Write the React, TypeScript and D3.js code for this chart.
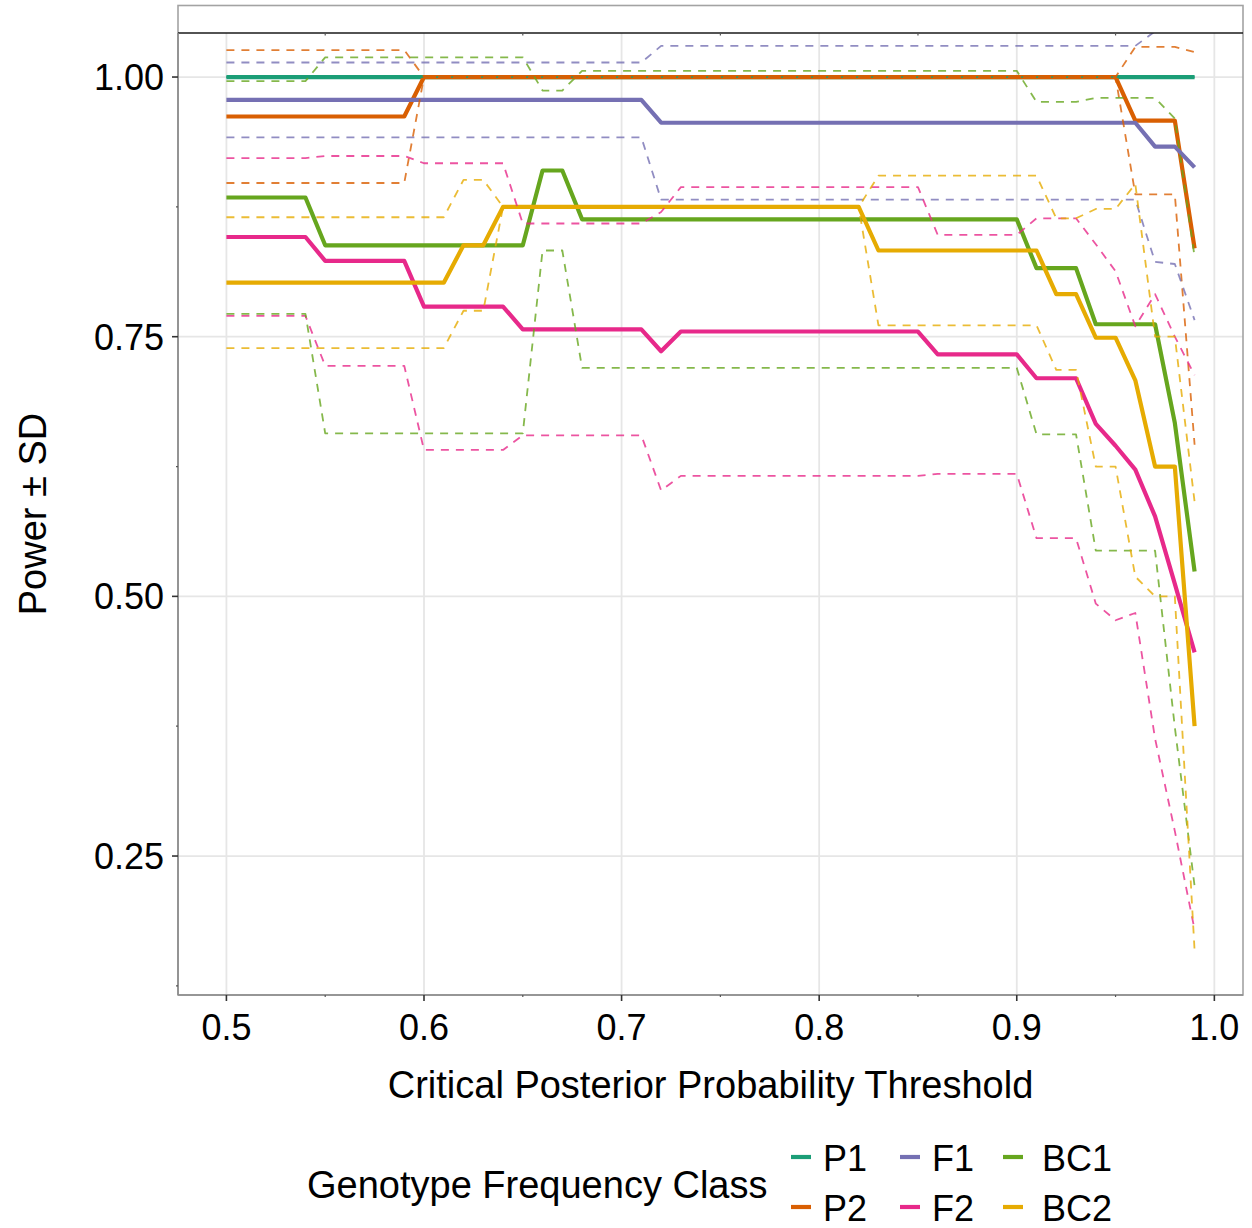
import React from 'react';
import * as d3 from 'd3';

const width = 1252;
const height = 1228;

// panel box in pixels
const left = 178;
const right = 1243;
const top = 33;
const bottom = 995;

const thresholds = [
	0.5, 0.51, 0.52, 0.53, 0.54, 0.55, 0.56, 0.57, 0.58, 0.59,
	0.6, 0.61, 0.62, 0.63, 0.64, 0.65, 0.66, 0.67, 0.68, 0.69,
	0.7, 0.71, 0.72, 0.73, 0.74, 0.75, 0.76, 0.77, 0.78, 0.79,
	0.8, 0.81, 0.82, 0.83, 0.84, 0.85, 0.86, 0.87, 0.88, 0.89,
	0.9, 0.91, 0.92, 0.93, 0.94, 0.95, 0.96, 0.97, 0.98, 0.99,
];

const p1Mean = [
	1, 1, 1, 1, 1, 1, 1, 1, 1, 1,
	1, 1, 1, 1, 1, 1, 1, 1, 1, 1,
	1, 1, 1, 1, 1, 1, 1, 1, 1, 1,
	1, 1, 1, 1, 1, 1, 1, 1, 1, 1,
	1, 1, 1, 1, 1, 1, 1, 1, 1, 1,
];
const p1Sd = [
	0, 0, 0, 0, 0, 0, 0, 0, 0, 0,
	0, 0, 0, 0, 0, 0, 0, 0, 0, 0,
	0, 0, 0, 0, 0, 0, 0, 0, 0, 0,
	0, 0, 0, 0, 0, 0, 0, 0, 0, 0,
	0, 0, 0, 0, 0, 0, 0, 0, 0, 0,
];

const p2Mean = [
	0.962, 0.962, 0.962, 0.962, 0.962, 0.962, 0.962, 0.962, 0.962, 0.962,
	1, 1, 1, 1, 1, 1, 1, 1, 1, 1,
	1, 1, 1, 1, 1, 1, 1, 1, 1, 1,
	1, 1, 1, 1, 1, 1, 1, 1, 1, 1,
	1, 1, 1, 1, 1, 1, 0.958, 0.958, 0.958, 0.835,
];
const p2Sd = [
	0.064, 0.064, 0.064, 0.064, 0.064, 0.064, 0.064, 0.064, 0.064, 0.064,
	0, 0, 0, 0, 0, 0, 0, 0, 0, 0,
	0, 0, 0, 0, 0, 0, 0, 0, 0, 0,
	0, 0, 0, 0, 0, 0, 0, 0, 0, 0,
	0, 0, 0, 0, 0, 0, 0.071, 0.071, 0.071, 0.189,
];

const f1Mean = [
	0.978, 0.978, 0.978, 0.978, 0.978, 0.978, 0.978, 0.978, 0.978, 0.978,
	0.978, 0.978, 0.978, 0.978, 0.978, 0.978, 0.978, 0.978, 0.978, 0.978,
	0.978, 0.978, 0.956, 0.956, 0.956, 0.956, 0.956, 0.956, 0.956, 0.956,
	0.956, 0.956, 0.956, 0.956, 0.956, 0.956, 0.956, 0.956, 0.956, 0.956,
	0.956, 0.956, 0.956, 0.956, 0.956, 0.956, 0.956, 0.933, 0.933, 0.913,
];
const f1Sd = [
	0.036, 0.036, 0.036, 0.036, 0.036, 0.036, 0.036, 0.036, 0.036, 0.036,
	0.036, 0.036, 0.036, 0.036, 0.036, 0.036, 0.036, 0.036, 0.036, 0.036,
	0.036, 0.036, 0.074, 0.074, 0.074, 0.074, 0.074, 0.074, 0.074, 0.074,
	0.074, 0.074, 0.074, 0.074, 0.074, 0.074, 0.074, 0.074, 0.074, 0.074,
	0.074, 0.074, 0.074, 0.074, 0.074, 0.074, 0.074, 0.111, 0.113, 0.147,
];

const f2Mean = [
	0.846, 0.846, 0.846, 0.846, 0.846, 0.823, 0.823, 0.823, 0.823, 0.823,
	0.779, 0.779, 0.779, 0.779, 0.779, 0.757, 0.757, 0.757, 0.757, 0.757,
	0.757, 0.757, 0.736, 0.755, 0.755, 0.755, 0.755, 0.755, 0.755, 0.755,
	0.755, 0.755, 0.755, 0.755, 0.755, 0.755, 0.733, 0.733, 0.733, 0.733,
	0.733, 0.71, 0.71, 0.71, 0.666, 0.645, 0.622, 0.577, 0.512, 0.446,
];
const f2Sd = [
	0.076, 0.076, 0.076, 0.076, 0.076, 0.101, 0.101, 0.101, 0.101, 0.101,
	0.138, 0.138, 0.138, 0.138, 0.138, 0.102, 0.102, 0.102, 0.102, 0.102,
	0.102, 0.102, 0.134, 0.139, 0.139, 0.139, 0.139, 0.139, 0.139, 0.139,
	0.139, 0.139, 0.139, 0.139, 0.139, 0.139, 0.115, 0.115, 0.115, 0.115,
	0.115, 0.154, 0.154, 0.154, 0.173, 0.168, 0.138, 0.214, 0.238, 0.267,
];

const bc1Mean = [
	0.884, 0.884, 0.884, 0.884, 0.884, 0.838, 0.838, 0.838, 0.838, 0.838,
	0.838, 0.838, 0.838, 0.838, 0.838, 0.838, 0.91, 0.91, 0.863, 0.863,
	0.863, 0.863, 0.863, 0.863, 0.863, 0.863, 0.863, 0.863, 0.863, 0.863,
	0.863, 0.863, 0.863, 0.863, 0.863, 0.863, 0.863, 0.863, 0.863, 0.863,
	0.863, 0.816, 0.816, 0.816, 0.762, 0.762, 0.762, 0.762, 0.667, 0.524,
];
const bc1Sd = [
	0.112, 0.112, 0.112, 0.112, 0.112, 0.181, 0.181, 0.181, 0.181, 0.181,
	0.181, 0.181, 0.181, 0.181, 0.181, 0.181, 0.077, 0.077, 0.143, 0.143,
	0.143, 0.143, 0.143, 0.143, 0.143, 0.143, 0.143, 0.143, 0.143, 0.143,
	0.143, 0.143, 0.143, 0.143, 0.143, 0.143, 0.143, 0.143, 0.143, 0.143,
	0.143, 0.16, 0.16, 0.16, 0.218, 0.218, 0.218, 0.218, 0.293, 0.303,
];

const bc2Mean = [
	0.802, 0.802, 0.802, 0.802, 0.802, 0.802, 0.802, 0.802, 0.802, 0.802,
	0.802, 0.802, 0.838, 0.838, 0.875, 0.875, 0.875, 0.875, 0.875, 0.875,
	0.875, 0.875, 0.875, 0.875, 0.875, 0.875, 0.875, 0.875, 0.875, 0.875,
	0.875, 0.875, 0.875, 0.833, 0.833, 0.833, 0.833, 0.833, 0.833, 0.833,
	0.833, 0.833, 0.791, 0.791, 0.749, 0.749, 0.708, 0.625, 0.625, 0.375,
];
const bc2Sd = [
	0.063, 0.063, 0.063, 0.063, 0.063, 0.063, 0.063, 0.063, 0.063, 0.063,
	0.063, 0.063, 0.063, 0.063, 0, 0, 0, 0, 0, 0,
	0, 0, 0, 0, 0, 0, 0, 0, 0, 0,
	0, 0, 0, 0.072, 0.072, 0.072, 0.072, 0.072, 0.072, 0.072,
	0.072, 0.072, 0.073, 0.073, 0.124, 0.124, 0.189, 0.125, 0.125, 0.216,
];

const groups = ['P1', 'P2', 'F1', 'F2', 'BC1', 'BC2'];
const colors = ['#1b9e77', '#d95f02', '#7570b3', '#e7298a', '#66a61e', '#e6ab02'];
const means = [p1Mean, p2Mean, f1Mean, f2Mean, bc1Mean, bc2Mean];
const sds = [p1Sd, p2Sd, f1Sd, f2Sd, bc1Sd, bc2Sd];

const yTicks = [0.25, 0.5, 0.75, 1.0];
const yTickLabels = ['0.25', '0.50', '0.75', '1.00'];
const yMinor = [0.125, 0.375, 0.625, 0.875];
const xTicks = [0.5, 0.6, 0.7, 0.8, 0.9, 1.0];
const xTickLabels = ['0.5', '0.6', '0.7', '0.8', '0.9', '1.0'];
const xMinor = [0.55, 0.65, 0.75, 0.85, 0.95];

const font = '"Liberation Sans", Arial, sans-serif';

const x = d3.scaleLinear().domain([0.4755, 1.0145]).range([left, right]);
const y = d3.scaleLinear().domain([0.1162, 1.0424]).range([bottom, top]);

const App = () => {
	const line = (vals: number[]) =>
		d3
			.line<number>()
			.x((d, i) => x(thresholds[i]))
			.y((d) => y(d))(vals) || '';

	// legend: 2 rows, filled column by column
	const legendCols = [791, 900, 1003];
	const legendRows = [1157, 1207];

	return (
		<svg
			width={width}
			height={height}
			style={{ position: 'absolute', left: 0, top: 0, background: '#fff' }}
			fontFamily={font}
		>
			<defs>
				<clipPath id="panel">
					<rect x={left} y={top} width={right - left} height={bottom - top} />
				</clipPath>
			</defs>
			<rect x={0} y={0} width={width} height={height} fill="#fff" />

			{/* grid */}
			{yTicks.map((t) => (
				<line key={'gy' + t} x1={left} x2={right} y1={y(t)} y2={y(t)} stroke="#e6e6e6" strokeWidth={1.8} />
			))}
			{xTicks.map((t) => (
				<line key={'gx' + t} x1={x(t)} x2={x(t)} y1={top} y2={bottom} stroke="#e6e6e6" strokeWidth={1.8} />
			))}

			<g clipPath="url(#panel)" fill="none" strokeLinejoin="round">
				{means.map((m, k) => (
					<path key={'m' + k} d={line(m)} stroke={colors[k]} strokeWidth={4.2} />
				))}
				{means.map((m, k) => (
					<g key={'sd' + k} stroke={colors[k]} strokeWidth={1.8} strokeDasharray="8,7" strokeOpacity={0.8}>
						<path d={line(m.map((v, i) => v + sds[k][i]))} />
						<path d={line(m.map((v, i) => v - sds[k][i]))} />
					</g>
				))}
			</g>

			{/* frame and strip */}
			<rect x={left} y={5.5} width={right - left} height={bottom - 5.5} fill="none" stroke="#a3a3a3" strokeWidth={1.6} />
			<line x1={left} x2={right} y1={top} y2={top} stroke="#1a1a1a" strokeWidth={1.6} />
			<line x1={left} x2={left} y1={top} y2={bottom} stroke="#8c8c8c" strokeWidth={1.6} />
			<line x1={left} x2={right} y1={bottom} y2={bottom} stroke="#8c8c8c" strokeWidth={1.6} />

			{/* y axis */}
			{yTicks.map((t, i) => (
				<g key={'yt' + t}>
					<line x1={left - 6} x2={left} y1={y(t)} y2={y(t)} stroke="#333" strokeWidth={1.6} />
					<text x={164} y={y(t) + 13} fontSize={36} textAnchor="end" fill="#000">
						{yTickLabels[i]}
					</text>
				</g>
			))}
			{yMinor.map((t) => (
				<line key={'ym' + t} x1={left - 2} x2={left} y1={y(t)} y2={y(t)} stroke="#555" strokeWidth={1.2} />
			))}

			{/* x axis */}
			{xTicks.map((t, i) => (
				<g key={'xt' + t}>
					<line x1={x(t)} x2={x(t)} y1={bottom} y2={bottom + 6} stroke="#333" strokeWidth={1.6} />
					<text x={x(t)} y={1040} fontSize={36} textAnchor="middle" fill="#000">
						{xTickLabels[i]}
					</text>
				</g>
			))}
			{xMinor.map((t) => (
				<g key={'xm' + t}>
					<line x1={x(t)} x2={x(t)} y1={bottom} y2={bottom + 2} stroke="#555" strokeWidth={1.2} />
					<line x1={x(t)} x2={x(t)} y1={top} y2={top + 2.5} stroke="#555" strokeWidth={1.2} />
				</g>
			))}

			<text x={(left + right) / 2} y={1098} fontSize={38} textAnchor="middle" fill="#000">
				Critical Posterior Probability Threshold
			</text>
			<text
				transform={`translate(46,${(top + bottom) / 2}) rotate(-90)`}
				fontSize={38}
				textAnchor="middle"
				fill="#000"
			>
				Power ± SD
			</text>

			{/* legend */}
			<text x={307} y={1198} fontSize={38} fill="#000">
				Genotype Frequency Class
			</text>
			{groups.map((g, k) => {
				const cx = legendCols[Math.floor(k / 2)];
				const cy = legendRows[k % 2];
				return (
					<g key={'lg' + g}>
						<line x1={cx} x2={cx + 20} y1={cy} y2={cy} stroke={colors[k]} strokeWidth={4.2} />
						<text x={cx + (k >= 4 ? 39 : 32)} y={cy + 14} fontSize={36} fill="#000">
							{g}
						</text>
					</g>
				);
			})}
		</svg>
	);
};

export default App;
